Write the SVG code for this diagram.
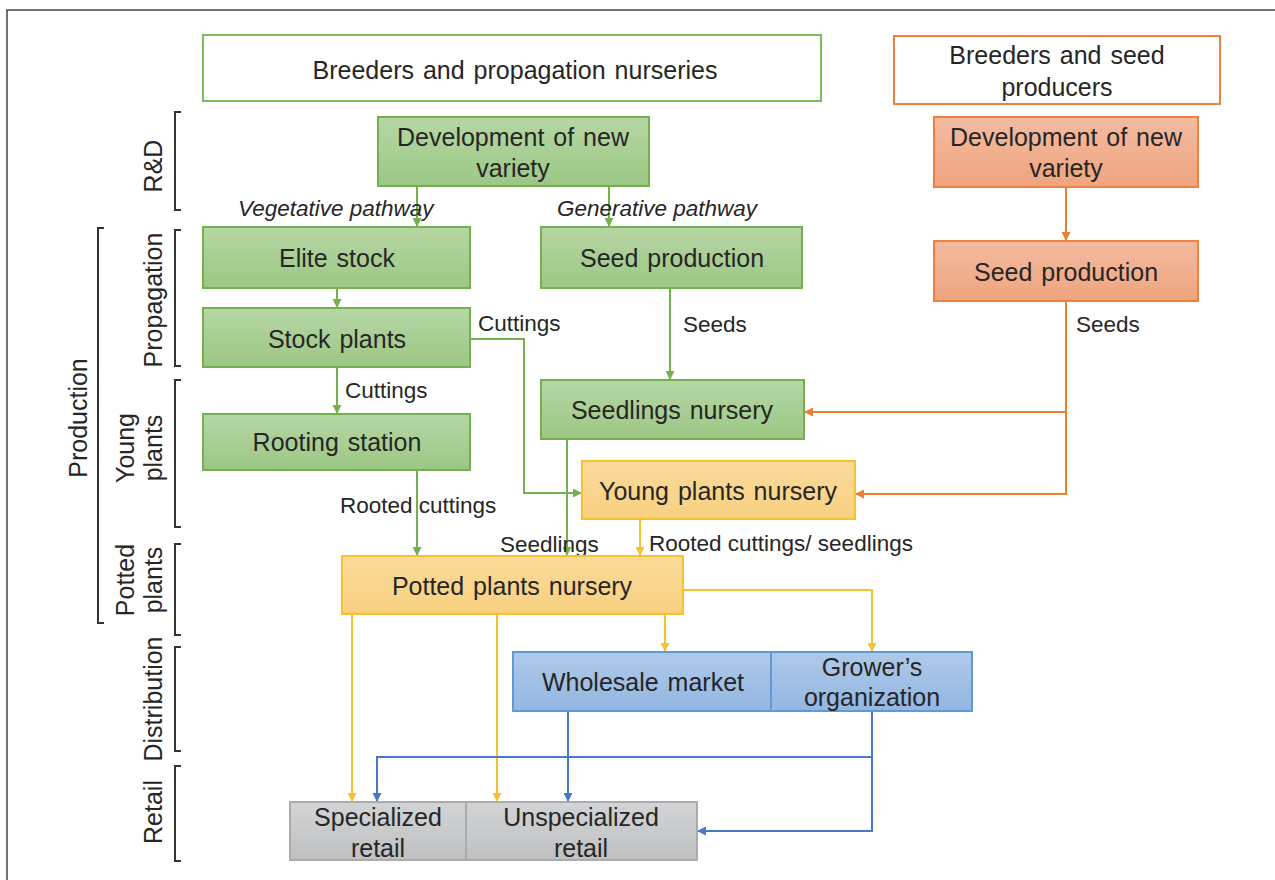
<svg xmlns="http://www.w3.org/2000/svg" width="1275" height="880" viewBox="0 0 1275 880">
<style>
text{font-family:"Liberation Sans",Arial,sans-serif;fill:#262626}
.t{font-size:25px;text-anchor:middle;word-spacing:2px}
.l{font-size:22.5px}
.i{font-size:22.5px;font-style:italic}
.v{font-size:25px;text-anchor:middle}
.g rect{fill:url(#gG);stroke:#74B04E;stroke-width:2}
.o rect{fill:url(#gO);stroke:#EE8040;stroke-width:2}
.y rect{fill:url(#gY);stroke:#F8C22F;stroke-width:2}
.b rect{fill:url(#gB);stroke:#5E9BD6;stroke-width:2}
.r rect{fill:url(#gR);stroke:#AAABAD;stroke-width:2}
.br{fill:none;stroke:#333;stroke-width:2}
#connectors path{fill:none;stroke-width:2}
.cg{stroke:#74B04E;marker-end:url(#aG)}
.co{stroke:#EE7D34;marker-end:url(#aO)}
.cy{stroke:#F8C22F;marker-end:url(#aY)}
.cb{stroke:#4A78C8;marker-end:url(#aB)}
</style>
<defs>
<linearGradient id="gG" x1="0" y1="0" x2="0" y2="1"><stop offset="0" stop-color="#B6D7A4"/><stop offset="1" stop-color="#9CC785"/></linearGradient>
<linearGradient id="gO" x1="0" y1="0" x2="0" y2="1"><stop offset="0" stop-color="#F3BBA1"/><stop offset="1" stop-color="#EFA47E"/></linearGradient>
<linearGradient id="gY" x1="0" y1="0" x2="0" y2="1"><stop offset="0" stop-color="#FADB9C"/><stop offset="1" stop-color="#F8D07F"/></linearGradient>
<linearGradient id="gB" x1="0" y1="0" x2="0" y2="1"><stop offset="0" stop-color="#AFCAEA"/><stop offset="1" stop-color="#93B6E1"/></linearGradient>
<linearGradient id="gR" x1="0" y1="0" x2="0" y2="1"><stop offset="0" stop-color="#D3D4D6"/><stop offset="1" stop-color="#BFC0C2"/></linearGradient>
<marker id="aG" viewBox="0 0 10 10" refX="10" refY="5" markerWidth="9" markerHeight="9" markerUnits="userSpaceOnUse" orient="auto"><path d="M0,0 L10,5 L0,10 z" fill="#74B04E"/></marker>
<marker id="aO" viewBox="0 0 10 10" refX="10" refY="5" markerWidth="9" markerHeight="9" markerUnits="userSpaceOnUse" orient="auto"><path d="M0,0 L10,5 L0,10 z" fill="#EE7D34"/></marker>
<marker id="aY" viewBox="0 0 10 10" refX="10" refY="5" markerWidth="9" markerHeight="9" markerUnits="userSpaceOnUse" orient="auto"><path d="M0,0 L10,5 L0,10 z" fill="#F8C22F"/></marker>
<marker id="aB" viewBox="0 0 10 10" refX="10" refY="5" markerWidth="9" markerHeight="9" markerUnits="userSpaceOnUse" orient="auto"><path d="M0,0 L10,5 L0,10 z" fill="#4A78C8"/></marker>
</defs>
<rect width="1275" height="880" fill="#fff"/>
<path d="M7,880 V10 H1275" fill="none" stroke="#444" stroke-width="1.5"/>

<g id="brackets">
<path class="br" d="M181,112 H175 V210 H181"/>
<path class="br" d="M181,230 H175 V366 H181"/>
<path class="br" d="M181,380 H175 V527 H181"/>
<path class="br" d="M181,544 H175 V635 H181"/>
<path class="br" d="M181,647 H175 V751 H181"/>
<path class="br" d="M181,766 H175 V861 H181"/>
<path class="br" d="M104,228 H98 V623 H104"/>
<text class="v" transform="translate(162,166) rotate(-90)">R&amp;D</text>
<text class="v" transform="translate(162,300) rotate(-90)">Propagation</text>
<text class="v" transform="translate(134,448) rotate(-90)">Young</text>
<text class="v" transform="translate(162,448) rotate(-90)">plants</text>
<text class="v" transform="translate(134,580) rotate(-90)">Potted</text>
<text class="v" transform="translate(162,580) rotate(-90)">plants</text>
<text class="v" transform="translate(162,699) rotate(-90)">Distribution</text>
<text class="v" transform="translate(162,812) rotate(-90)">Retail</text>
<text class="v" transform="translate(87,418) rotate(-90)">Production</text>
</g>

<g id="connectors">
<path class="cg" d="M417,186 V227"/>
<path class="cg" d="M609,186 V227"/>
<path class="cg" d="M337,288 V308"/>
<path class="cg" d="M337,367 V414"/>
<path class="cg" d="M470,339 H524 V493 H582"/>
<path class="cg" d="M670,288 V380"/>
<path class="cg" d="M567,439 V556"/>
<path class="cg" d="M417,470 V556"/>
<path class="cy" d="M640,519 V556"/>
<path class="cy" d="M352,614 V802"/>
<path class="cy" d="M497,614 V802"/>
<path class="cy" d="M665,614 V652"/>
<path class="cy" d="M683,590 H872 V652"/>
<path class="cb" d="M568,711 V802"/>
<path class="cb" d="M872,711 V831 H697"/>
<path class="cb" d="M872,757 H377 V802"/>
<path class="co" d="M1066,187 V241"/>
<path class="co" d="M1066,301 V494 H855"/>
<path class="co" d="M1066,412 H804"/>
</g>

<g id="labels">
<text class="i" x="238" y="216">Vegetative pathway</text>
<text class="i" x="557" y="216">Generative pathway</text>
<text class="l" x="478" y="331">Cuttings</text>
<text class="l" x="683" y="332">Seeds</text>
<text class="l" x="1076" y="332">Seeds</text>
<text class="l" x="345" y="398">Cuttings</text>
<text class="l" x="340" y="513">Rooted cuttings</text>
<text class="l" x="500" y="552">Seedlings</text>
<text class="l" x="649" y="551">Rooted cuttings/ seedlings</text>
</g>

<g id="breeders-propagation"><rect x="203" y="35" width="618" height="66" fill="#fff" stroke="#7DBA58" stroke-width="2"/><text class="t" x="515" y="79">Breeders and propagation nurseries</text></g>
<g id="breeders-seed"><rect x="894" y="36" width="326" height="68" fill="#fff" stroke="#EE8040" stroke-width="2"/><text class="t" x="1057" y="64">Breeders and seed</text><text class="t" x="1057" y="96">producers</text></g>

<g id="dev-green" class="g"><rect x="378" y="117" width="271" height="69"/><text class="t" x="513" y="146">Development of new</text><text class="t" x="513" y="177">variety</text></g>
<g id="dev-orange" class="o"><rect x="934" y="117" width="264" height="70"/><text class="t" x="1066" y="146">Development of new</text><text class="t" x="1066" y="177">variety</text></g>
<g id="elite-stock" class="g"><rect x="203" y="227" width="267" height="61"/><text class="t" x="337" y="267">Elite stock</text></g>
<g id="seed-prod-green" class="g"><rect x="541" y="227" width="261" height="61"/><text class="t" x="672" y="267">Seed production</text></g>
<g id="seed-prod-orange" class="o"><rect x="934" y="241" width="264" height="60"/><text class="t" x="1066" y="281">Seed production</text></g>
<g id="stock-plants" class="g"><rect x="203" y="308" width="267" height="59"/><text class="t" x="337" y="348">Stock plants</text></g>
<g id="seedlings-nursery" class="g"><rect x="541" y="380" width="263" height="59"/><text class="t" x="672" y="419">Seedlings nursery</text></g>
<g id="rooting-station" class="g"><rect x="203" y="414" width="267" height="56"/><text class="t" x="337" y="451">Rooting station</text></g>
<g id="young-plants-nursery" class="y"><rect x="582" y="461" width="273" height="58"/><text class="t" x="718" y="500">Young plants nursery</text></g>
<g id="potted-plants-nursery" class="y"><rect x="342" y="556" width="341" height="58"/><text class="t" x="512" y="595">Potted plants nursery</text></g>
<g id="wholesale-market" class="b"><rect x="513" y="652" width="258" height="59"/><text class="t" x="643" y="691">Wholesale market</text></g>
<g id="growers-organization" class="b"><rect x="771" y="652" width="201" height="59"/><text class="t" x="872" y="676">Grower’s</text><text class="t" x="872" y="706">organization</text></g>
<g id="specialized-retail" class="r"><rect x="290" y="802" width="176" height="58"/><text class="t" x="378" y="826">Specialized</text><text class="t" x="378" y="857">retail</text></g>
<g id="unspecialized-retail" class="r"><rect x="466" y="802" width="231" height="58"/><text class="t" x="581" y="826">Unspecialized</text><text class="t" x="581" y="857">retail</text></g>
</svg>
